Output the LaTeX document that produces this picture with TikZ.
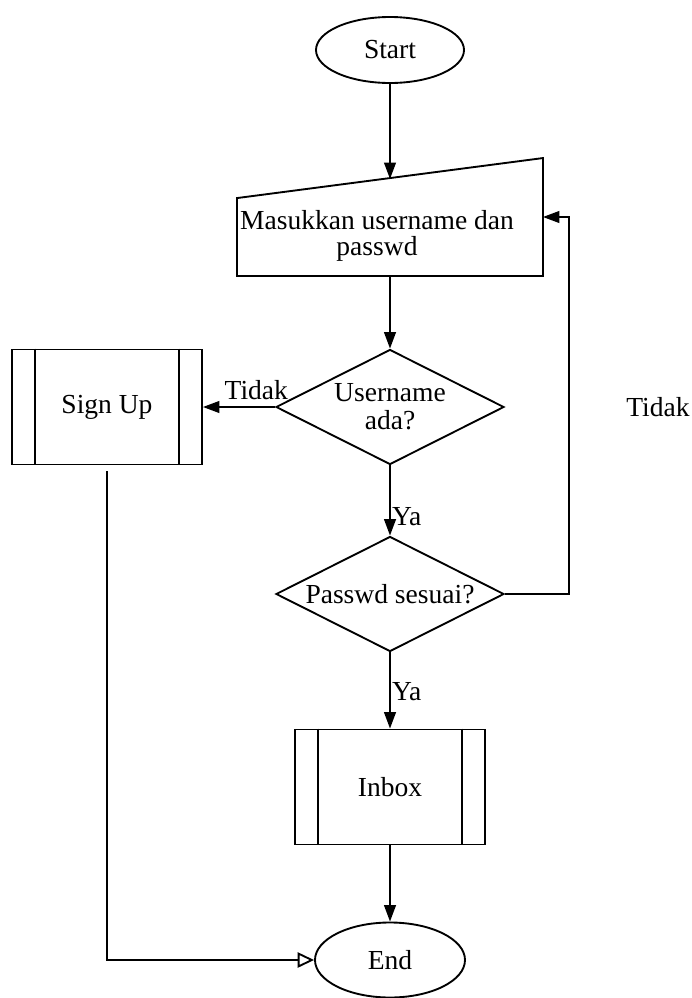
\documentclass[tikz,border=0pt]{standalone}
\usepackage{fontspec}
\setmainfont{Liberation Serif}
\usepackage{tikz}
\usetikzlibrary{arrows.meta}
\usetikzlibrary{shapes.geometric}

\tikzset{
  term/.style={draw, ellipse, minimum width=4.44cm, minimum height=1.98cm, inner sep=0pt},
  decision/.style={draw, diamond, aspect=2, minimum width=6.84cm, minimum height=3.45cm, inner sep=0pt, align=center},
  subproc/.style={draw, rectangle, minimum width=5.7cm, minimum height=3.45cm},
  inputbox/.style={rectangle, minimum width=9.12cm, minimum height=3.48cm},
  flow/.style={-{Triangle[length=14pt,width=10pt]}},
  lbl/.style={inner sep=1pt}
}

\begin{document}
\begin{tikzpicture}[x=0.03cm, y=-0.03cm, line width=1.6pt, font=\fontsize{23.5}{24}\selectfont]
\useasboundingbox (0,0) rectangle (691,998);
\coordinate (inTop) at (390,179);
\coordinate (loop) at (569,594);
% draws blocks
\node[term] (start) at (390,50) {Start};
\node[inputbox] (input) at (390,217) {};
\node[align=center, font=\fontsize{23.5}{22.5}\selectfont] (inputtxt) at (377,236) {Masukkan username dan\\passwd};
\node[decision] (cekuser) at (390,407) {Username\\ada?};
\node[decision] (cekpass) at (390,594) {Passwd sesuai?};
\node[subproc] (signup) at (107,407) {Sign Up};
\node[subproc] (inbox) at (390,787) {Inbox};
\node[term, minimum width=4.5cm, minimum height=2.25cm] (end) at (390,960) {End};
\node (tidak2) at (658,407) {Tidak};
% manual input outline
\draw (input.south west) -- (input.south east) -- (input.north east)
  -- ([yshift=-1.2cm]input.north west) -- cycle;
% side bars of the sub processes
\foreach \b in {signup,inbox}{
  \draw ([xshift=0.72cm]\b.north west) -- ([xshift=0.72cm]\b.south west);
  \draw ([xshift=-0.72cm]\b.north east) -- ([xshift=-0.72cm]\b.south east);
}
% draws edges
\draw[flow] (start.south) -- (inTop);
\draw[flow] (input.south) -- (cekuser.north);
\draw[flow] (cekuser.west) -- node[lbl, above=4.5pt, pos=0.26] (tidak1) {Tidak} (signup.east);
\draw[flow] (cekuser.south) -- node[lbl, right, pos=0.73] (ya1) {Ya} (cekpass.north);
\draw[flow] (cekpass.south) -- node[lbl, right, pos=0.52] (ya2) {Ya} (inbox.north);
\draw[flow] (cekpass.east) -- (loop) |- (input.east);
\draw[flow] (inbox.south) -- (end.north);
\draw[-{Triangle[open,length=14pt,width=13pt]}, shorten <=0.18cm] (signup.south) |- (end.west);
\end{tikzpicture}
\end{document}
